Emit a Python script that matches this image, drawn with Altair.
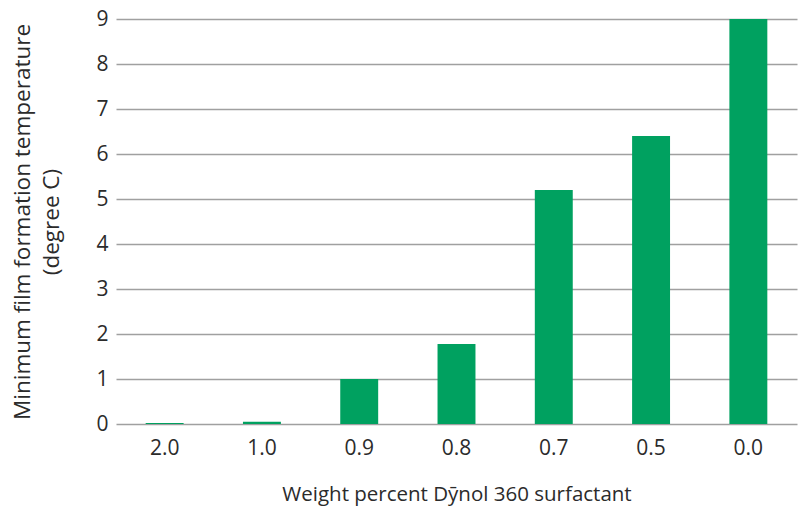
import altair as alt
import pandas as pd

categories = ["2.0", "1.0", "0.9", "0.8", "0.7", "0.5", "0.0"]
values = [0.02, 0.05, 1.0, 1.78, 5.2, 6.4, 9.0]

df = pd.DataFrame({"cat": categories, "val": values})

FONT = "Open Sans"
TXT = "#2b2b2b"

chart = alt.Chart(df).mark_bar(color="#00a160").encode(
    x=alt.X("cat:N", sort=categories,
            scale=alt.Scale(range=[0, 681], paddingInner=0.61, paddingOuter=0.305),
            axis=alt.Axis(title="Weight percent Dȳnol 360 surfactant", labelAngle=0,
                          ticks=False, domain=False, labelPadding=13, titlePadding=26,
                          labelFontSize=21, titleFontSize=20.5, labelFont=FONT, titleFont=FONT,
                          labelColor=TXT, titleColor=TXT, titleFontWeight="normal")),
    y=alt.Y("val:Q", scale=alt.Scale(domain=[0, 9], nice=False),
            axis=alt.Axis(title=["Minimum film formation temperature", "(degree C)"],
                          values=list(range(10)), ticks=False, domain=False,
                          grid=True, gridColor="#a0a0a0", gridWidth=1.5,
                          labelPadding=8, titlePadding=32,
                          labelFontSize=21, titleFontSize=22.5, labelFont=FONT, titleFont=FONT,
                          labelColor=TXT, titleColor=TXT, titleFontWeight="normal",
                          titleLineHeight=29)),
).properties(
    width=688, height=405,
    autosize=alt.AutoSizeParams(type="none"),
    padding={"left": 108, "top": 11, "right": 0, "bottom": 85},
).configure_view(stroke=None)

chart.save("out.html", embed_options={"renderer": "svg", "actions": False})
